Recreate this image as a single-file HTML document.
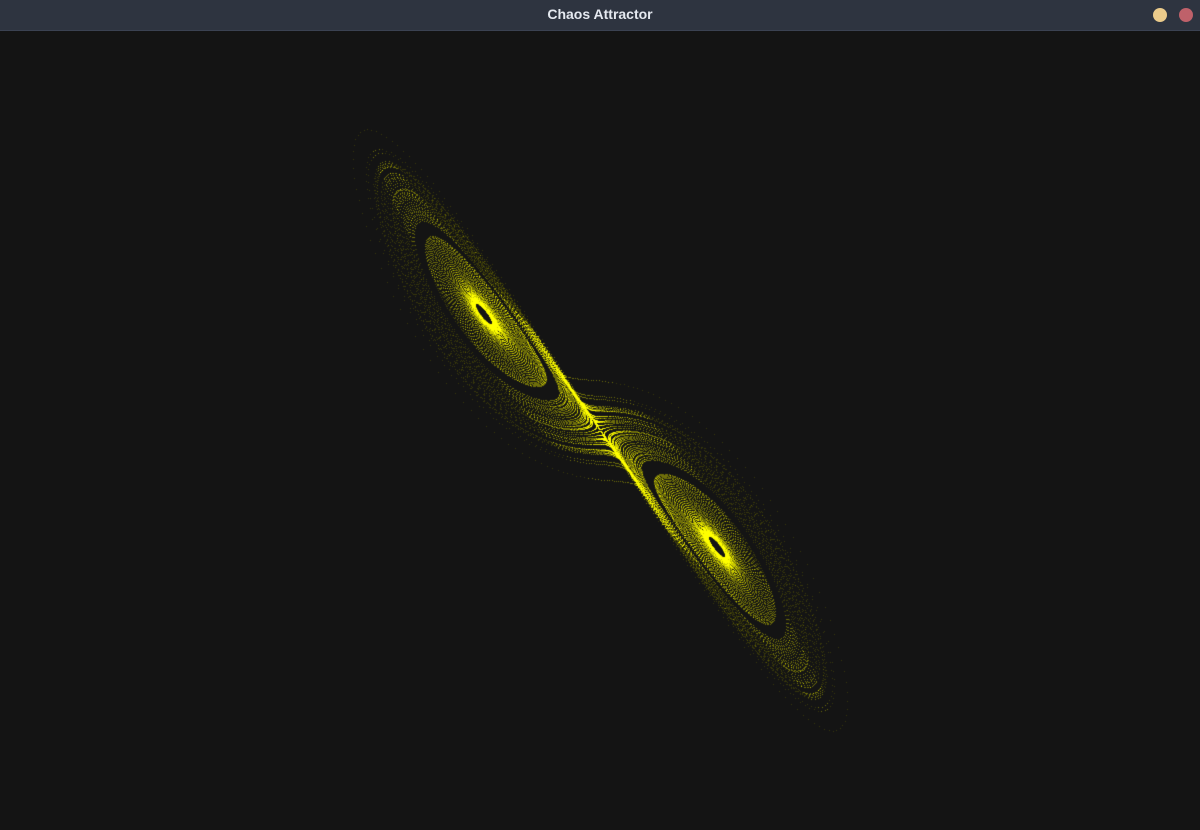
<!DOCTYPE html>
<html><head><meta charset="utf-8">
<style>
html,body{margin:0;padding:0;background:#141414;width:1200px;height:830px;overflow:hidden;font-family:"Liberation Sans",sans-serif}
#bar{position:absolute;left:0;top:0;width:1200px;height:30px;background:#2e3440;border-bottom:1px solid #3b4252}
#title{position:absolute;left:0;width:1200px;top:6px;text-align:center;color:#e5e9f0;font-size:14px;font-weight:bold}
.dot{position:absolute;top:8px;width:14px;height:14px;border-radius:50%}
canvas{position:absolute;left:0;top:31px}
</style></head><body>
<div id="bar">
<div id="title">Chaos Attractor</div>
<div class="dot" style="left:1153px;background:#ebcb8b"></div>
<div class="dot" style="left:1179px;background:#bf616a"></div>
</div>
<canvas id="c" width="1200" height="799"></canvas>
<script>
const params = [10, 22, 8/3];        // sigma, rho, beta
const initState = [0.5, 0.8, 20];
const maxSteps = [300000];
const drawSteps = [14000];
const timeStep = [0.005];
const stopRadius = [0.8];
const perpFactor = [0.7];
const cv = document.getElementById('c');
const ctx = cv.getContext('2d');
ctx.globalCompositeOperation = 'lighter';
const fp = Math.sqrt(params[2]*(params[1]-1));
const scale = 233/(2*fp);
const cx = 600, cy = 430-31;
function proj(x,y){
  const d=(x+y)/2, n=(x-y)/2*perpFactor[0];
  return [cx+scale*(d+n), cy+scale*(d-n)];
}
function run(sign){
  let [x,y,z] = initState;
  x*=sign; y*=sign;
  const [s,r,b] = params, dt = timeStep[0];
  const f=(x,y,z)=>[s*(y-x), x*(r-z)-y, x*y-b*z];
  const pts=[];
  for(let i=0;i<maxSteps[0];i++){
    const k1=f(x,y,z);
    const k2=f(x+k1[0]*dt/2,y+k1[1]*dt/2,z+k1[2]*dt/2);
    const k3=f(x+k2[0]*dt/2,y+k2[1]*dt/2,z+k2[2]*dt/2);
    const k4=f(x+k3[0]*dt,y+k3[1]*dt,z+k3[2]*dt);
    x+=dt*(k1[0]+2*k2[0]+2*k3[0]+k4[0])/6;
    y+=dt*(k1[1]+2*k2[1]+2*k3[1]+k4[1])/6;
    z+=dt*(k1[2]+2*k2[2]+2*k3[2]+k4[2])/6;
    pts.push([x,y,Math.hypot(k1[0],k1[1])]);
    const sg = x>0?1:-1;
    if(Math.hypot(x-sg*fp, y-sg*fp, z-(r-1)) < stopRadius[0]) break;
  }
  const start=Math.max(0,pts.length-drawSteps[0]);
  for(let i=start;i<pts.length;i++){
    const q=pts[i];
    ctx.fillStyle = q[2]>60 ? 'rgba(100,100,0,0.45)' : 'rgba(200,200,0,0.5)';
    const p=proj(q[0],q[1]);
    ctx.fillRect(Math.round(p[0]), Math.round(p[1]), 1, 1);
  }
}
run(1); run(-1);
</script>
</body></html>
